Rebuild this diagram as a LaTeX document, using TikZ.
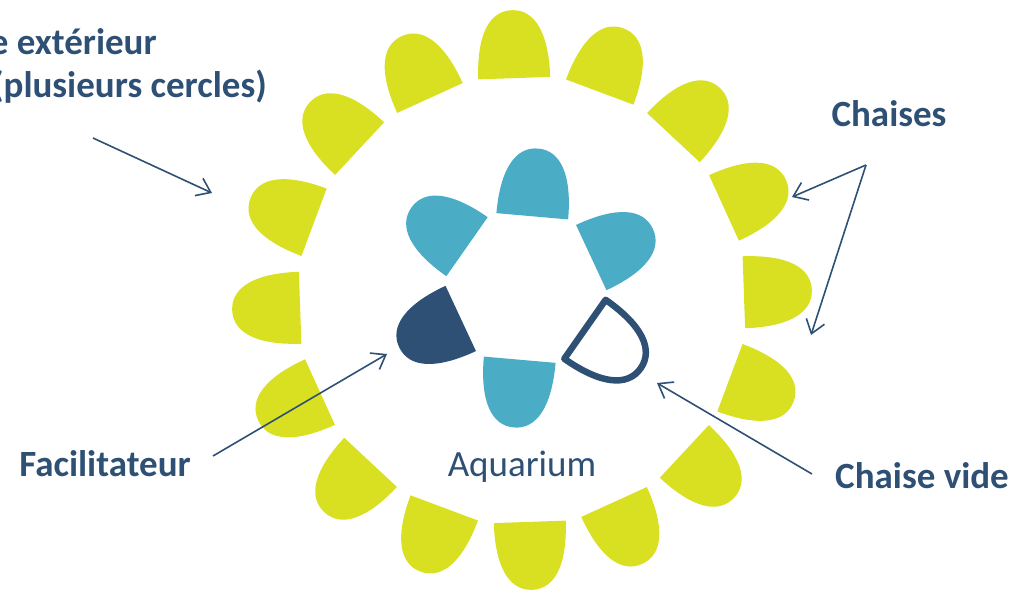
\documentclass[tikz,border=0pt]{standalone}
\usepackage{fontspec}
\setmainfont{Carlito}
\usetikzlibrary{arrows.meta}
\definecolor{jaune}{HTML}{D9E021}
\definecolor{bleuclair}{HTML}{4BACC6}
\definecolor{bleufonce}{HTML}{2E5075}
\tikzset{
	chaise/.pic={\path[pic actions] (-36,0) .. controls (-36,44) and (-23,68) .. (0,68)
		.. controls (23,68) and (36,44) .. (36,0) -- cycle;},
	etiquette/.style={text=bleufonce, font=\fontsize{37}{44}\selectfont\bfseries, inner sep=0pt, anchor=base},
	fleche/.style={draw=bleufonce, line width=1.6pt, -{Straight Barb[length=13pt,width=19pt]}}
}
\begin{document}
\begin{tikzpicture}[x=1pt,y=1pt]
				\def\rext{222}
				\def\rint{72}
				\useasboundingbox (-522,-290) rectangle (493,300);
				\coordinate (ceni) at (0,0);
				\coordinate (cenii) at (4,12);
				
				% cercle exterieur
				\foreach \i [evaluate=\i as \a using 2+22.5*\i] in {0,...,15}
					\pic[fill=jaune, rotate=\a-90] at ([shift={(\a:\rext)}]ceni) {chaise};
				% aquarium
				\foreach \a in {85,145,265,25}
					\pic[fill=bleuclair, rotate=\a-90] at ([shift={(\a:\rint)}]cenii) {chaise};
				\pic[fill=bleufonce, rotate=115] at ([shift={(205:\rint)}]cenii) {chaise};
				\pic[draw=bleufonce, line width=6.5pt, line join=round, rotate=235] at ([shift={(325:\rint)}]cenii) {chaise};
				
				\node[etiquette, anchor=base east] (exti) at (-365,246) {e extérieur};
				\node[etiquette, anchor=base east] (extii) at (-255,203) {(plusieurs cercles)};
				\node[etiquette] (chai) at (367,174) {Chaises};
				\node[etiquette] (faci) at (-417,-176) {Facilitateur};
				\node[etiquette] (vide) at (400,-188) {Chaise vide};
				\node[etiquette, font=\fontsize{37}{44}\selectfont] (aqua) at (0,-176) {Aquarium};
				
				\coordinate (ext-d) at (-429,162);
				\coordinate (ext-f) at (-310,107);
				\coordinate (chai-d) at (344,135);
				\coordinate (chai-fi) at (270,103);
				\coordinate (chai-fii) at (289,-35);
				\coordinate (faci-d) at (-309,-156);
				\coordinate (faci-f) at (-135,-54);
				\coordinate (vide-d) at (290,-174);
				\coordinate (vide-f) at (135,-83);
				
				\draw[fleche] (ext-d) -- (ext-f);
				\draw[fleche] (chai-d) -- (chai-fi);
				\draw[fleche] (chai-d) -- (chai-fii);
				\draw[fleche] (faci-d) -- (faci-f);
				\draw[fleche] (vide-d) -- (vide-f);
\end{tikzpicture}
\end{document}
